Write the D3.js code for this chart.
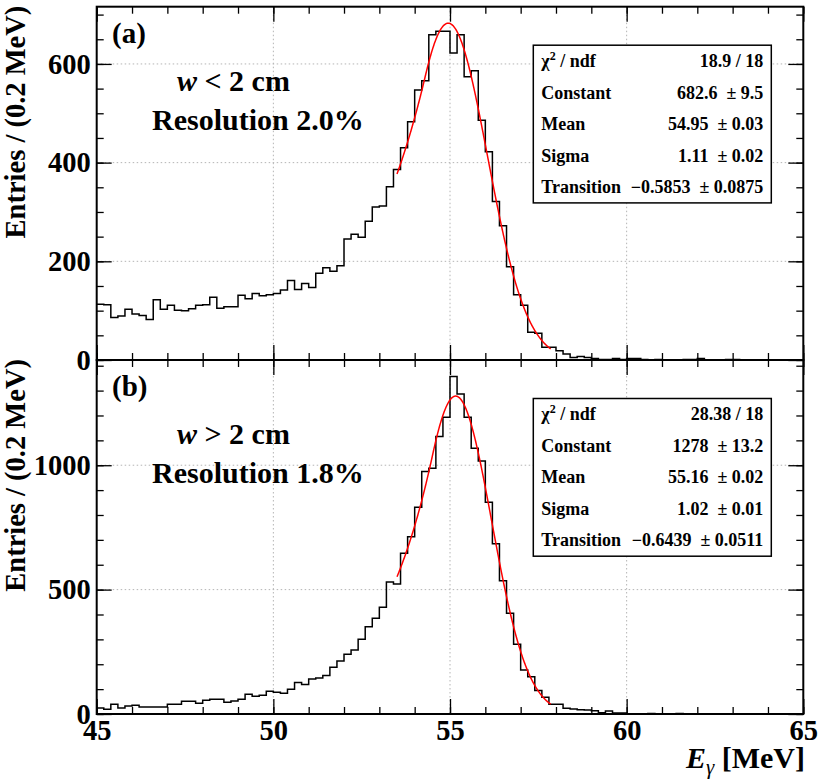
<!DOCTYPE html>
<html>
<head>
<meta charset="utf-8">
<script src="https://cdnjs.cloudflare.com/ajax/libs/d3/7.8.5/d3.min.js"></script>
<style>
  body { margin: 0; background: #fff; }
  svg { font-family: 'Liberation Serif', 'Times New Roman', serif; font-weight: bold; }
  .axis path { display: none; }
  .axis line { stroke: #000; stroke-width: 1.3; }
  .axis text { font-family: 'Liberation Serif', serif; font-weight: bold; font-size: 28.5px; fill: #000; }
  .grid { stroke: #b4b4b4; stroke-width: 1; stroke-dasharray: 1.5,2.5; }
</style>
</head>
<body>
<svg class="chart" width="822" height="780"></svg>
<script>
// histogram binning (MeV)
var eLow = 45;
var binWidth = 0.2;

// entries per 0.2 MeV bin, 45 -> 65 MeV (100 bins)
var countsNarrow = [
  113, 112, 86, 89, 103, 93, 90, 82, 122, 103,
  111, 101, 100, 104, 111, 112, 127, 105, 108, 108,
  131, 124, 135, 130, 132, 135, 142, 161, 143, 155,
  147, 176, 187, 180, 191, 245, 255, 249, 281, 310,
  312, 351, 386, 430, 483, 547, 566, 659, 666, 666,
  622, 659, 574, 586, 486, 422, 321, 272, 189, 132,
  111, 56, 54, 26, 26, 19, 12, 5, 7, 5,
  3, 1, 1, 3, 1, 3, 3, 1, 0, 1,
  0, 0, 0, 1, 1, 3, 0, 0, 0, 1,
  1, 0, 0, 0, 0, 0, 0, 0, 0, 0
];
var countsWide = [
  24, 19, 39, 24, 32, 35, 28, 28, 28, 28,
  39, 39, 51, 51, 43, 55, 59, 59, 47, 52,
  59, 79, 71, 75, 91, 87, 83, 99, 127, 119,
  141, 145, 155, 188, 213, 240, 257, 300, 351, 385,
  429, 531, 523, 646, 713, 831, 975, 988, 1115, 1193,
  1357, 1286, 1193, 1068, 1017, 851, 684, 536, 405, 280,
  177, 150, 94, 67, 39, 39, 23, 20, 17, 16,
  13, 5, 12, 4, 4, 0, 0, 0, 2, 0,
  0, 0, 2, 0, 0, 0, 0, 0, 0, 0,
  0, 0, 0, 0, 0, 0, 0, 0, 0, 0
];

var xMajor = [45, 50, 55, 60, 65];
var yMajorNarrow = [0, 200, 400, 600];
var yMajorWide = [0, 500, 1000];

// fit parameters: constant, mean, sigma, transition
var fitNarrow = [682.6, 54.95, 1.11, -0.5853];
var fitWide = [1278, 55.16, 1.02, -0.6439];
var fitRange = [53.5, 57.85];

var statNames = ['ndf', 'Constant', 'Mean', 'Sigma', 'Transition'];
var statsNarrow = ['18.9 / 18', '682.6 \u00a0\u00b1 9.5', '54.95 \u00a0\u00b1 0.03', '1.11 \u00a0\u00b1 0.02', '\u22120.5853 \u00a0\u00b1 0.0875'];
var statsWide = ['28.38 / 18', '1278 \u00a0\u00b1 13.2', '55.16 \u00a0\u00b1 0.02', '1.02 \u00a0\u00b1 0.01', '\u22120.6439 \u00a0\u00b1 0.0511'];

(function () {
  'use strict';

  var left = 96.7;
  var right = 803.3;

  var x = d3.scaleLinear().domain([45, 65]).range([left, right]);

  // gaussian with exponential low-energy tail
  function tailGaus (e, p) {
    var u = (e - p[1]) / p[2];
    if (u > p[3]) return p[0] * Math.exp(-u * u / 2);
    return p[0] * Math.exp(p[3] * p[3] / 2 - p[3] * u);
  }

  function drawPanel (svg, cfg) {
    var y = d3.scaleLinear().domain([0, cfg.ymax]).range([cfg.bottom, cfg.top]);
    var g = svg.append('g');

    // grid
    g.selectAll('.gx').data(xMajor.slice(1, -1)).enter().append('line')
      .attr('class', 'grid')
      .attr('x1', function (d) { return x(d); }).attr('x2', function (d) { return x(d); })
      .attr('y1', cfg.top).attr('y2', cfg.bottom);
    g.selectAll('.gy').data(cfg.yMajor.slice(1)).enter().append('line')
      .attr('class', 'grid')
      .attr('x1', left).attr('x2', right)
      .attr('y1', function (d) { return y(d); }).attr('y2', function (d) { return y(d); });

    // histogram
    var bins = cfg.counts.map(function (c, i) {
      return { e: eLow + i * binWidth, c: c };
    });
    bins.push({ e: eLow + cfg.counts.length * binWidth, c: cfg.counts[cfg.counts.length - 1] });
    var step = d3.line()
      .x(function (d) { return x(d.e); })
      .y(function (d) { return y(d.c); })
      .curve(d3.curveStepAfter);
    g.append('path').attr('d', step(bins))
      .attr('fill', 'none').attr('stroke', '#000').attr('stroke-width', 1.5);

    // fit
    var pts = d3.range(fitRange[0], fitRange[1] + 0.001, 0.01);
    var fitLine = d3.line()
      .x(function (d) { return x(d); })
      .y(function (d) { return y(tailGaus(d, cfg.fit)); });
    g.append('path').attr('d', fitLine(pts))
      .attr('fill', 'none').attr('stroke', '#f00').attr('stroke-width', 1.5);

    // ticks (inward, all four sides)
    var minorX = d3.range(45, 65.01, 1);
    var minorY = d3.range(0, cfg.ymax, cfg.minorStep);
    g.append('g').attr('class', 'axis').attr('transform', 'translate(0,' + cfg.bottom + ')')
      .call(d3.axisBottom(x).tickValues(minorX).tickSizeInner(-7).tickSizeOuter(0).tickFormat(''));
    g.append('g').attr('class', 'axis').attr('transform', 'translate(0,' + cfg.bottom + ')')
      .call(d3.axisBottom(x).tickValues(xMajor).tickSizeInner(-15).tickSizeOuter(0).tickPadding(6)
        .tickFormat(cfg.xLabels ? d3.format('d') : ''));
    g.append('g').attr('class', 'axis').attr('transform', 'translate(0,' + cfg.top + ')')
      .call(d3.axisTop(x).tickValues(minorX).tickSizeInner(-7).tickSizeOuter(0).tickFormat(''));
    g.append('g').attr('class', 'axis').attr('transform', 'translate(0,' + cfg.top + ')')
      .call(d3.axisTop(x).tickValues(xMajor).tickSizeInner(-15).tickSizeOuter(0).tickFormat(''));

    g.append('g').attr('class', 'axis').attr('transform', 'translate(' + left + ',0)')
      .call(d3.axisLeft(y).tickValues(minorY).tickSizeInner(-7).tickSizeOuter(0).tickFormat(''));
    g.append('g').attr('class', 'axis').attr('transform', 'translate(' + left + ',0)')
      .call(d3.axisLeft(y).tickValues(cfg.yMajor).tickSizeInner(-15).tickSizeOuter(0).tickPadding(6)
        .tickFormat(d3.format('d')));
    g.append('g').attr('class', 'axis').attr('transform', 'translate(' + right + ',0)')
      .call(d3.axisRight(y).tickValues(minorY).tickSizeInner(-7).tickSizeOuter(0).tickFormat(''));
    g.append('g').attr('class', 'axis').attr('transform', 'translate(' + right + ',0)')
      .call(d3.axisRight(y).tickValues(cfg.yMajor).tickSizeInner(-15).tickSizeOuter(0).tickFormat(''));

    // frame
    g.append('rect')
      .attr('x', left).attr('y', cfg.top)
      .attr('width', right - left).attr('height', cfg.bottom - cfg.top)
      .attr('fill', 'none').attr('stroke', '#000').attr('stroke-width', 2);

    // y title
    g.append('text')
      .attr('transform', 'translate(25,' + (cfg.top - 1) + ') rotate(-90)')
      .attr('text-anchor', 'end')
      .attr('font-size', 28.5)
      .text('Entries / (0.2 MeV)');

    // panel labels
    g.append('text').attr('x', 112).attr('y', cfg.top + 36).attr('font-size', 29).text(cfg.tag);
    var cut = g.append('text').attr('x', 177).attr('y', cfg.top + 84).attr('font-size', 30);
    cut.append('tspan').attr('font-style', 'italic').text('w');
    cut.append('tspan').text(' ' + cfg.cut + ' 2 cm');
    g.append('text').attr('x', 152).attr('y', cfg.top + 123).attr('font-size', 30).text(cfg.resolution);

    // stats box
    var bx = 533.3;
    var by = cfg.top + 38.5;
    var bw = 238;
    var bh = 157.7;
    g.append('rect').attr('x', bx).attr('y', by).attr('width', bw).attr('height', bh)
      .attr('fill', '#fff').attr('stroke', '#000').attr('stroke-width', 1.5);
    var rowH = bh / 5;
    statNames.forEach(function (name, i) {
      var ty = by + rowH * (i + 0.5) + 6;
      var t = g.append('text').attr('x', bx + 8).attr('y', ty).attr('font-size', 18);
      if (i === 0) {
        t.append('tspan').text('\u03c7');
        t.append('tspan').attr('font-size', 12).attr('dy', -7).text('2');
        t.append('tspan').attr('dy', 7).text(' / ndf');
      } else {
        t.text(name);
      }
      g.append('text').attr('x', bx + bw - 8).attr('y', ty).attr('font-size', 18)
        .attr('text-anchor', 'end').text(cfg.stats[i]);
    });
  }

  function init () {
    var svg = d3.select('.chart');

    drawPanel(svg, {
      top: 6.7, bottom: 360, ymax: 716, minorStep: 50,
      counts: countsNarrow, fit: fitNarrow, yMajor: yMajorNarrow,
      stats: statsNarrow, tag: '(a)', cut: '<', resolution: 'Resolution 2.0%',
      xLabels: false
    });
    drawPanel(svg, {
      top: 360, bottom: 714, ymax: 1423, minorStep: 100,
      counts: countsWide, fit: fitWide, yMajor: yMajorWide,
      stats: statsWide, tag: '(b)', cut: '>', resolution: 'Resolution 1.8%',
      xLabels: true
    });

    // x title
    var xt = svg.append('text').attr('x', 805).attr('y', 768)
      .attr('text-anchor', 'end').attr('font-size', 30);
    xt.append('tspan').attr('font-style', 'italic').text('E');
    xt.append('tspan').attr('font-size', 21).attr('font-style', 'italic').attr('font-weight', 'normal')
      .attr('dy', 6).text('\u03b3');
    xt.append('tspan').attr('dy', -6).text(' [MeV]');
  }

  window.addEventListener('load', init);
}());
</script>
</body>
</html>
